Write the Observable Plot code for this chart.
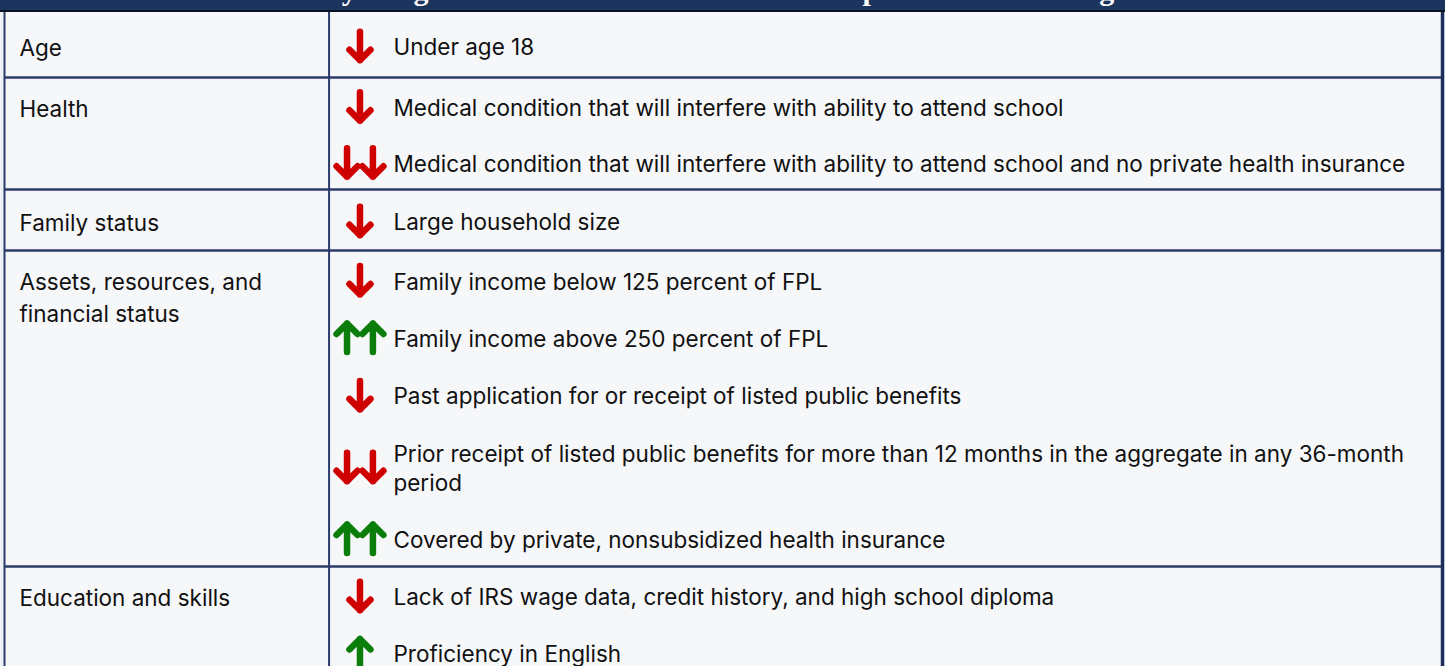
<!DOCTYPE html>
<html><head><meta charset="utf-8">
<script src="https://cdn.jsdelivr.net/npm/d3@7"></script>
<script src="https://cdn.jsdelivr.net/npm/@observablehq/plot@0.6"></script>
<style>
html,body{margin:0;padding:0;background:#eef1f6;overflow:hidden;}
#hdr{position:relative;height:10px;background:#1b355e;border-bottom:2px solid #0b1222;overflow:hidden;}
#hdr span{position:absolute;left:0;right:0;top:-25px;text-align:center;font:bold 30px/30px "Liberation Serif",serif;color:#fff;white-space:nowrap;}
#chart svg{display:block;}
</style></head><body>
<div id="hdr"><span id="title"></span></div>
<div id="chart"></div>
<script>
const title = "Heavily Weighted and Other Factors in the Proposed Public Charge Test";
const categories = ["Age", "Health", "Family status", "Assets, resources, and\nfinancial status", "Education and skills"];
const factorCategory = [0, 1, 1, 2, 3, 3, 3, 3, 3, 4, 4];
const factorText = [
  "Under age 18",
  "Medical condition that will interfere with ability to attend school",
  "Medical condition that will interfere with ability to attend school and no private health insurance",
  "Large household size",
  "Family income below 125 percent of FPL",
  "Family income above 250 percent of FPL",
  "Past application for or receipt of listed public benefits",
  "Prior receipt of listed public benefits for more than 12 months in the aggregate in any 36-month\nperiod",
  "Covered by private, nonsubsidized health insurance",
  "Lack of IRS wage data, credit history, and high school diploma",
  "Proficiency in English"
];
const factorDirection = [-1, -1, -1, -1, -1, 1, -1, -1, 1, -1, 1]; // -1 negative, +1 positive
const factorWeight = [1, 1, 2, 1, 1, 2, 1, 2, 2, 1, 1];           // 2 = heavily weighted

document.getElementById("title").textContent = title;

// ---- layout (units = one text line) ----
const H = 654;
const FS = 22.5;
const labelLine = 32 / 28.8;
const shift = 1;

const items = [], rows = [], bounds = [0];
let u = 0;
categories.forEach((c, ci) => {
  let first = null;
  factorText.forEach((t, i) => {
    if (factorCategory[i] !== ci) return;
    const lines = t.split("\n").length;
    const center = u + (lines + 1) / 2;
    if (first === null) first = u + 1;
    items.push({text: t, y: center, dir: factorDirection[i], w: factorWeight[i]});
    u += lines + 1;
  });
  const n = c.split("\n").length;
  rows.push({label: c, y: first + (n - 1) / 2 * labelLine});
  bounds.push(u);
});
const inner = bounds.slice(0, -1);            // row tops
const ymax = inner[inner.length - 1] + 3.5;   // visible part of the last row

const arrows = [];
items.forEach(d => {
  const offs = d.w === 2 ? [-0.9, 0.9] : [0];
  offs.forEach(o => arrows.push({x: 24.72 + o, y: d.y, dir: d.dir}));
});

const arrowShape = {
  draw(context, l) {
    const wing = 10.5;
    context.moveTo(0, 0);
    context.lineTo(0, -l);
    context.moveTo(-wing, wing - l);
    context.lineTo(0, -l);
    context.lineTo(wing, wing - l);
  }
};

const border = "#2b3c6a";
const font = "Inter, 'Liberation Sans', Arial, sans-serif";

function arrowMark(shape) {
  return Plot.vector(arrows, {
    x: "x", y: "y", length: 28.5, anchor: "middle",
    rotate: d => d.dir > 0 ? 0 : 180,
    stroke: d => d.dir > 0 ? "#0b7d0b" : "#cf0000",
    strokeWidth: 6.5, strokeLinecap: "round", strokeLinejoin: "round",
    shape, dy: shift
  });
}

function build(shape) {
  return Plot.plot({
    width: 1445, height: H,
    margin: 0,
    style: {fontFamily: font, background: "transparent", overflow: "visible"},
    x: {domain: [0, 100], range: [4, 1442], axis: null},
    // piecewise-linear: row boundaries (in line units) → table border positions
    y: {type: "linear", domain: [...inner, ymax], range: [0, 65, 177, 238, 554, H], axis: null},
    marks: [
      Plot.rect([0], {x1: 0, x2: 100, y1: 0, y2: ymax, fill: "#f6f7f9"}),
      Plot.ruleY(inner.slice(1), {x1: 0, x2: 100, stroke: border, strokeWidth: 2.5}),
      Plot.ruleX([0], {y1: 0, y2: ymax, stroke: border, strokeWidth: 2}),
      Plot.ruleX([100], {y1: 0, y2: ymax, stroke: "#1e2d58", strokeWidth: 3.5}),
      Plot.ruleX([22.57], {y1: 0, y2: ymax, stroke: border, strokeWidth: 2}),
      Plot.text(rows, {
        x: 1.04, y: "y", text: "label", textAnchor: "start",
        lineAnchor: "middle", lineHeight: 32 / FS, dy: shift,
        fontSize: FS, fill: "#111"
      }),
      Plot.text(items, {
        x: 27.05, y: "y", text: "text", textAnchor: "start",
        lineAnchor: "middle", lineHeight: 29 / FS, dy: shift,
        fontSize: FS, fill: "#111"
      }),
      arrowMark(shape)
    ]
  });
}

let chart;
try { chart = build(arrowShape); } catch (e) { chart = build("arrow"); }
document.getElementById("chart").appendChild(chart);
</script>
</body></html>
